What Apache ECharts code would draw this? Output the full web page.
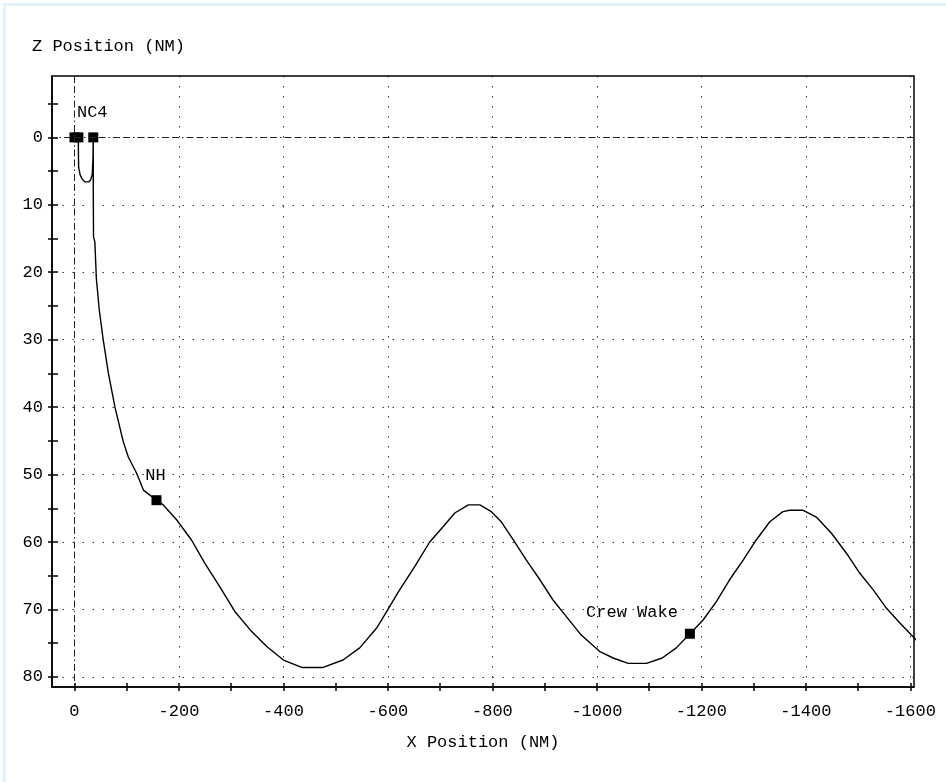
<!DOCTYPE html>
<html>
<head>
<meta charset="utf-8">
<title>Z Position vs X Position</title>
<script src="https://cdn.jsdelivr.net/npm/echarts@6/dist/echarts.min.js"></script>
<style>
  html, body { margin: 0; padding: 0; background: #fff; }
  #chart { width: 946px; height: 782px; }
</style>
</head>
<body>
<div id="chart"></div>
<script>
  // trajectory (NM)
  const trackX = [0, -7.5, -7.5, -8, -11, -15, -20, -27, -31, -34, -35.5, -36,
    -36, -36, -36.5, -39, -42, -47.5, -55, -65, -77.5, -93, -103, -119, -132, -157,
    -170, -195.5, -224, -250, -278, -307, -336, -368, -400, -435, -476, -514, -546,
    -578, -597, -620, -651.5, -680, -706, -728, -754, -776, -798, -817, -840, -865,
    -891, -916, -942, -970, -1005, -1031, -1060, -1095, -1125, -1152, -1178, -1203,
    -1229, -1254, -1280, -1305, -1331, -1356, -1369, -1395, -1420, -1449, -1478,
    -1503, -1529, -1554, -1580, -1602, -1615]
  const trackZ = [0, 0, 2, 4.5, 5.6, 6.2, 6.6, 6.6, 6.3, 5.5, 3, 0,
    3, 8, 14.8, 15.5, 21, 25.6, 30, 35, 40, 45, 47.4, 49.8, 52.3, 53.8,
    54.5, 56.7, 59.7, 63.2, 66.6, 70.3, 73, 75.5, 77.5, 78.6, 78.6, 77.5, 75.7,
    72.8, 70.4, 67.4, 63.6, 60, 57.7, 55.7, 54.5, 54.5, 55.5, 57, 59.7, 62.7,
    65.6, 68.6, 71.1, 73.8, 76.2, 77.2, 78, 78, 77.2, 75.7, 73.6, 71.6,
    68.8, 65.6, 62.7, 59.7, 57, 55.5, 55.3, 55.3, 56.3, 58.7, 61.7,
    64.6, 67.1, 69.8, 72, 73.8, 74.8]

  // event markers
  const markerX = [0, -7.5, -36, -157, -1178]
  const markerZ = [0, 0, 0, 53.8, 73.6]
  const markerNames = ["NC4", "", "", "NH", "Crew Wake"]

  // axis ticks / labels / grid lines
  const xLabelValues = [0, -200, -400, -600, -800, -1000, -1200, -1400, -1600]
  const xTickValues = [0, -100, -200, -300, -400, -500, -600, -700, -800, -900, -1000,
    -1100, -1200, -1300, -1400, -1500, -1600]
  const zLabelValues = [0, 10, 20, 30, 40, 50, 60, 70, 80]
  const zTickValues = [-5, 0, 5, 10, 15, 20, 25, 30, 35, 40, 45, 50, 55, 60, 65, 70, 75, 80]
  const xGridValues = [-200, -400, -600, -800, -1000, -1200, -1400, -1600]
  const zGridValues = [10, 20, 30, 40, 50, 60, 70, 80]

  const FONT = "Liberation Mono"
  const X_MIN = -1607
  const X_MAX = 43
  const Z_MIN = -9.1
  const Z_MAX = 81.5

  // where each marker label sits (align, offset from the marker centre)
  const labelPlace = {
    "NC4": { align: "left", offset: [2.5, -24.5] },
    "NH": { align: "center", offset: [-1, -24.5] },
    "Crew Wake": { align: "right", offset: [-12, -21.5] }
  }

  const dotted = { color: "#333", width: 1, type: [1.5, 8.5] }
  const dashDot = { color: "#222", width: 1, type: [7, 3, 7, 3, 1.5, 3] }

  const chart = echarts.init(document.getElementById("chart"))

  const makeXAxis = (inner) => ({
    type: "value",
    position: "bottom",
    inverse: true,
    min: X_MIN,
    max: X_MAX,
    name: inner ? "" : "X Position (NM)",
    nameLocation: "middle",
    nameGap: 47,
    nameTextStyle: { fontFamily: FONT, fontSize: 17, color: "#000" },
    axisLine: { show: !inner, onZero: false, lineStyle: { color: "#000", width: 1.5 } },
    axisTick: {
      show: true,
      inside: inner,
      length: 4,
      customValues: xTickValues,
      lineStyle: { color: "#000", width: 1.5 }
    },
    axisLabel: {
      show: !inner,
      customValues: xLabelValues,
      formatter: value => String(value),
      margin: 16,
      fontFamily: FONT,
      fontSize: 17,
      color: "#000"
    },
    splitLine: { show: false }
  })

  const makeYAxis = (inner) => ({
    type: "value",
    position: "left",
    inverse: true,
    min: Z_MIN,
    max: Z_MAX,
    axisLine: { show: !inner, onZero: false, lineStyle: { color: "#000", width: 1.5 } },
    axisTick: {
      show: true,
      inside: inner,
      length: inner ? 6 : 4,
      customValues: zTickValues,
      lineStyle: { color: "#000", width: 1.5 }
    },
    axisLabel: {
      show: !inner,
      customValues: zLabelValues,
      formatter: value => String(value),
      margin: 9,
      fontFamily: FONT,
      fontSize: 17,
      color: "#000"
    },
    splitLine: { show: false }
  })

  const gridLines = []
  xGridValues.forEach(v => gridLines.push({ xAxis: v, lineStyle: dotted }))
  zGridValues.forEach(v => gridLines.push({ yAxis: v, lineStyle: dotted }))
  gridLines.push({ xAxis: 0, lineStyle: dashDot })
  gridLines.push({ yAxis: 0, lineStyle: dashDot })

  const markerData = markerX.map((x, i) => {
    const name = markerNames[i]
    const place = labelPlace[name]
    return {
      value: [x, markerZ[i]],
      label: place
        ? { show: true, formatter: name, position: "inside", align: place.align, offset: place.offset, color: "#000" }
        : { show: false }
    }
  })

  chart.setOption({
    animation: false,
    backgroundColor: "#fff",
    title: {
      text: "Z Position (NM)",
      left: 32,
      top: 38,
      padding: 0,
      textStyle: { fontFamily: FONT, fontSize: 17, fontWeight: "normal", color: "#000" }
    },
    graphic: [
      {
        type: "rect",
        silent: true,
        shape: { x: 4.5, y: 4.5, width: 1000, height: 1000 },
        style: { fill: "none", stroke: "#e2f2fb", lineWidth: 3 }
      }
    ],
    grid: {
      left: 52,
      right: 32,
      top: 76,
      bottom: 95,
      show: true,
      borderColor: "#000",
      borderWidth: 1.5,
      backgroundColor: "#fff",
      outerBoundsMode: "none"
    },
    xAxis: [makeXAxis(false), makeXAxis(true)],
    yAxis: [makeYAxis(false), makeYAxis(true)],
    series: [
      {
        name: "track",
        type: "line",
        data: trackX.map((x, i) => [x, trackZ[i]]),
        showSymbol: false,
        smooth: false,
        lineStyle: { color: "#000", width: 1.4 },
        markLine: {
          silent: true,
          symbol: ["none", "none"],
          label: { show: false },
          emphasis: { disabled: true },
          data: gridLines
        },
        z: 3
      },
      {
        name: "events",
        type: "scatter",
        data: markerData,
        symbol: "rect",
        symbolSize: 10,
        itemStyle: { color: "#000", opacity: 1 },
        label: {
          fontFamily: FONT,
          fontSize: 17,
          color: "#000"
        },
        z: 4
      }
    ]
  })

  window.addEventListener("resize", () => {
    chart.resize()
  })
</script>
</body>
</html>
